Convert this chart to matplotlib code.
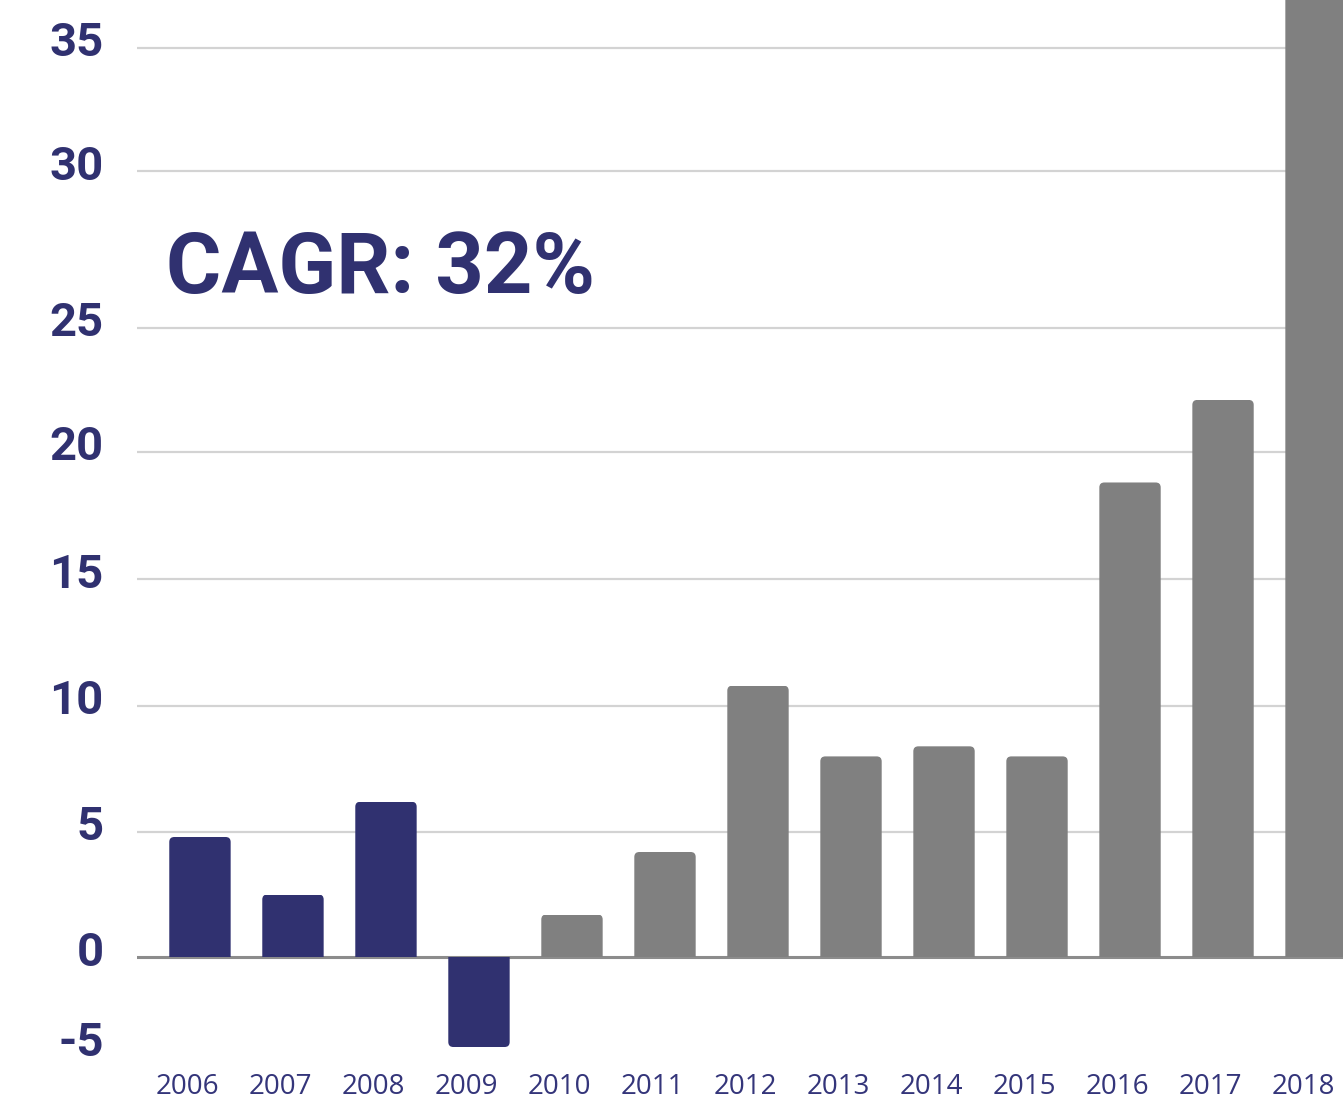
import numpy as np
import matplotlib
matplotlib.use('Agg')
import matplotlib.pyplot as plt
from matplotlib.patches import FancyBboxPatch
from matplotlib.transforms import IdentityTransform, ScaledTranslation

# ---------------- data ----------------
years = ['2006', '2007', '2008', '2009', '2010', '2011', '2012',
         '2013', '2014', '2015', '2016', '2017', '2018']
values = [4.8, 2.5, 6.2, -5.0, 1.7, 4.2, 10.8, 8.0, 8.4, 8.0, 18.8, 22.1, 39.0]
historic = [True, True, True, True, False, False, False,
            False, False, False, False, False, False]
y_ticks = [-5, 0, 5, 10, 15, 20, 25, 30, 35]
y_tick_labels = ['-5', '0', '5', '10', '15', '20', '25', '30', '35']
cagr_label = 'CAGR: 32%'

# piecewise axis scale (value -> pixel offset above zero line), as laid out in original
scale_vals = np.array([-10, -5, 0, 5, 10, 15, 20, 25, 30, 35, 50], dtype=float)
scale_px = np.array([-180, -90, 0, 125, 251, 378, 505, 629, 786, 909, 1278], dtype=float)


def fwd(v):
    return np.interp(v, scale_vals, scale_px)


def inv(p):
    return np.interp(p, scale_px, scale_vals)


NAVY = '#303170'
GREY = '#808080'
GRID = '#D3D3D3'
ZERO = '#8C8C8C'
BOLD_FONT = ['Roboto', 'DejaVu Sans']
TEXT_FONT = ['Open Sans', 'Noto Sans', 'DejaVu Sans']

W, H = 1343, 1100
fig = plt.figure(figsize=(W / 100, H / 100), dpi=100)
ax_left, ax_bottom_px, zero_px_from_top = 137, 1100 - 1056, 957
ax = fig.add_axes([ax_left / W, ax_bottom_px / H, 1 - ax_left / W, 1056 / H])
ax.set_yscale('function', functions=(fwd, inv))

x = np.arange(len(years))
colors = [NAVY if h else GREY for h in historic]
bars = ax.bar(x, values, width=0.66, color=colors, linewidth=0, zorder=3)

ax.set_xlim(-0.677, 12.29)
ax.set_ylim(-5.5, inv(zero_px_from_top))

# grid lines for positive ticks, zero line
for t in y_ticks:
    if t > 0:
        ax.axhline(t, color=GRID, lw=1.6, zorder=1)
ax.axhline(0, color=ZERO, lw=2.2, zorder=2)

for s in ax.spines.values():
    s.set_visible(False)

ax.set_yticks(y_ticks)
ax.set_yticklabels(y_tick_labels)
ax.set_xticks(x)
ax.set_xticklabels(years)
ax.tick_params(axis='y', length=0, pad=24, labelsize=34, labelcolor=NAVY)
ax.tick_params(axis='x', length=0, pad=12, labelsize=20, labelcolor='#34357a')
for lab in ax.get_yticklabels():
    lab.set_fontfamily(BOLD_FONT)
    lab.set_fontweight('bold')
    lab.set_transform(lab.get_transform() + ScaledTranslation(0, 9 / 100, fig.dpi_scale_trans))
for lab in ax.get_xticklabels():
    lab.set_fontfamily(TEXT_FONT)
    lab.set_transform(lab.get_transform() + ScaledTranslation(-13 / 100, 0, fig.dpi_scale_trans))

fig.text(166 / W, 1 - 293 / H, cagr_label, fontsize=61, fontweight='bold',
         color=NAVY, family=BOLD_FONT, ha='left', va='baseline')

# rounded outer corners of bars
fig.canvas.draw()
r = 5
for rect, v in zip(bars, values):
    (x0, y0), (x1, y1) = ax.transData.transform(
        [(rect.get_x(), rect.get_y()),
         (rect.get_x() + rect.get_width(), rect.get_y() + rect.get_height())])
    lo, hi = min(y0, y1), max(y0, y1)
    if v >= 0:
        lo -= 4 * r
    else:
        hi += 4 * r
    clip = FancyBboxPatch((x0, lo), x1 - x0, hi - lo,
                          boxstyle=f'round,pad=0,rounding_size={r}',
                          transform=IdentityTransform())
    rect.set_clip_path(clip)

fig.savefig('out.png', dpi=100)
